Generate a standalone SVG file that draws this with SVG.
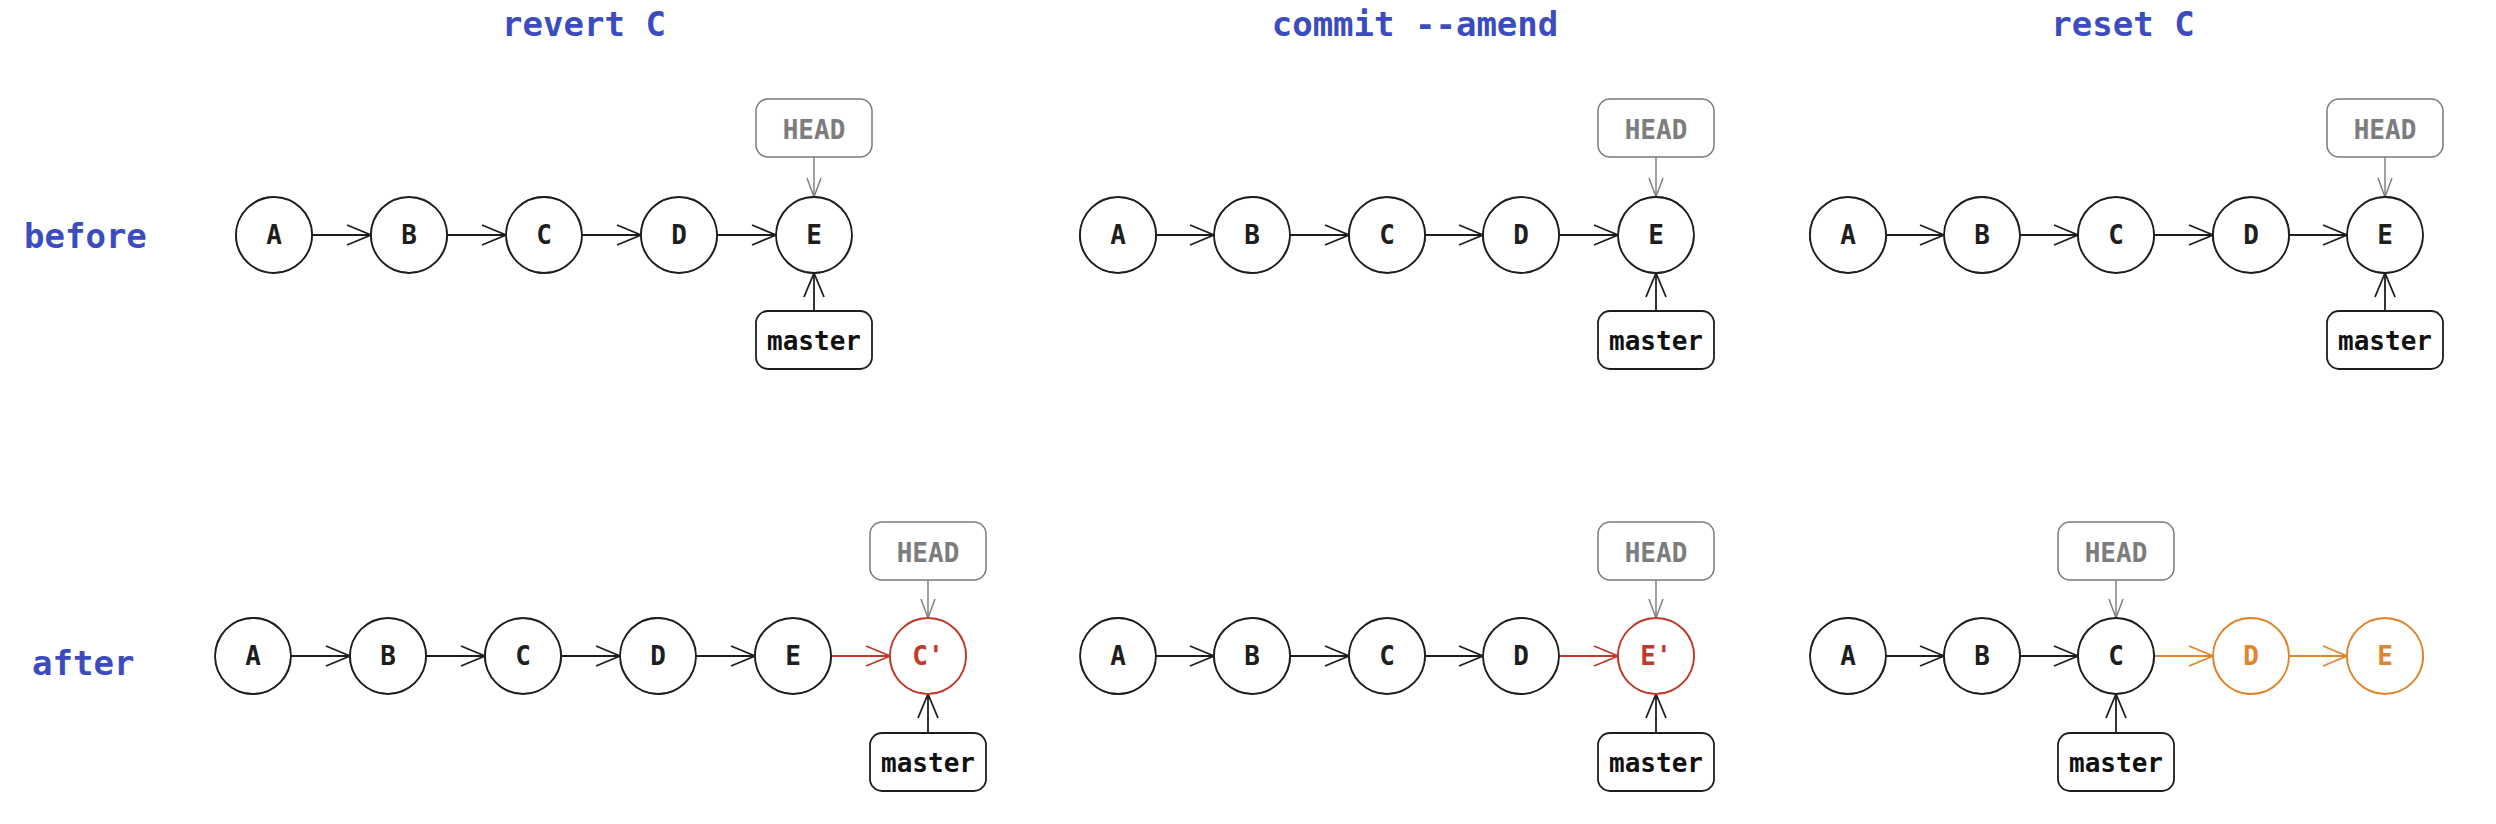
<svg xmlns="http://www.w3.org/2000/svg" width="2496" height="824" viewBox="0 0 2496 824">
<style>
text{font-family:"DejaVu Sans Mono","Liberation Mono",monospace}
.t{font-size:34px;font-weight:bold;fill:#3b4cc0}
.n circle,.n ellipse{fill:#fff;stroke:#1e1e1e;stroke-width:1.8}
.n ellipse{fill:none;stroke-width:1;opacity:.85}
.n text{font-size:26px;font-weight:bold;text-anchor:middle;fill:#1e1e1e}
.n.r circle,.n.r ellipse{stroke:#c0392b}
.n.r text{fill:#c0392b}
.n.o circle,.n.o ellipse{stroke:#e0852b}
.n.o text{fill:#e0852b}
.h rect{fill:#fff;stroke:#7a7a7a;stroke-width:1.5}
.h text{font-size:26px;font-weight:bold;text-anchor:middle;fill:#7d7d7d}
.m rect{fill:#fff;stroke:#1e1e1e;stroke-width:1.8}
.m text{font-size:26px;font-weight:bold;text-anchor:middle;fill:#111}
.e line{stroke:#1e1e1e;stroke-width:1.8;fill:none;marker-end:url(#ak)}
.e line.g{stroke:#7a7a7a;stroke-width:1.4;marker-end:url(#ag)}
.e line.r{stroke:#c0392b;marker-end:url(#ar)}
.e line.o{stroke:#e0852b;marker-end:url(#ao)}
</style>
<defs>
<marker id="ak" markerUnits="userSpaceOnUse" markerWidth="28" markerHeight="24" refX="25" refY="12" orient="auto"><path d="M1,2 L25,12 L1,22" fill="none" stroke="#1e1e1e" stroke-width="1.8"/></marker>
<marker id="ar" markerUnits="userSpaceOnUse" markerWidth="28" markerHeight="24" refX="25" refY="12" orient="auto"><path d="M1,2 L25,12 L1,22" fill="none" stroke="#c0392b" stroke-width="1.8"/></marker>
<marker id="ao" markerUnits="userSpaceOnUse" markerWidth="28" markerHeight="24" refX="25" refY="12" orient="auto"><path d="M1,2 L25,12 L1,22" fill="none" stroke="#e0852b" stroke-width="1.8"/></marker>
<marker id="ag" markerUnits="userSpaceOnUse" markerWidth="22" markerHeight="20" refX="20" refY="10" orient="auto"><path d="M1,3 L20,10 L1,17" fill="none" stroke="#7a7a7a" stroke-width="1.4"/></marker>
</defs>
<rect width="2496" height="824" fill="#fff"/>
<g id="titles">
<text class="t" x="584" y="36" text-anchor="middle">revert C</text>
<text class="t" x="1415" y="36" text-anchor="middle">commit --amend</text>
<text class="t" x="2123" y="36" text-anchor="middle">reset C</text>
<text class="t" x="24" y="248">before</text>
<text class="t" x="32" y="675">after</text>
</g>
<g id="connectors" class="e">
<line x1="312" y1="235" x2="371" y2="235"/>
<line x1="447" y1="235" x2="506" y2="235"/>
<line x1="582" y1="235" x2="641" y2="235"/>
<line x1="717" y1="235" x2="776" y2="235"/>
<line class="g" x1="814" y1="157" x2="814" y2="197"/>
<line x1="814" y1="311" x2="814" y2="273"/>
<line x1="291" y1="656" x2="350" y2="656"/>
<line x1="426" y1="656" x2="485" y2="656"/>
<line x1="561" y1="656" x2="620" y2="656"/>
<line x1="696" y1="656" x2="755" y2="656"/>
<line class="r" x1="831" y1="656" x2="890" y2="656"/>
<line class="g" x1="928" y1="580" x2="928" y2="618"/>
<line x1="928" y1="733" x2="928" y2="694"/>
<line x1="1156" y1="235" x2="1214" y2="235"/>
<line x1="1290" y1="235" x2="1349" y2="235"/>
<line x1="1425" y1="235" x2="1483" y2="235"/>
<line x1="1559" y1="235" x2="1618" y2="235"/>
<line class="g" x1="1656" y1="157" x2="1656" y2="197"/>
<line x1="1656" y1="311" x2="1656" y2="273"/>
<line x1="1156" y1="656" x2="1214" y2="656"/>
<line x1="1290" y1="656" x2="1349" y2="656"/>
<line x1="1425" y1="656" x2="1483" y2="656"/>
<line class="r" x1="1559" y1="656" x2="1618" y2="656"/>
<line class="g" x1="1656" y1="580" x2="1656" y2="618"/>
<line x1="1656" y1="733" x2="1656" y2="694"/>
<line x1="1886" y1="235" x2="1944" y2="235"/>
<line x1="2020" y1="235" x2="2078" y2="235"/>
<line x1="2154" y1="235" x2="2213" y2="235"/>
<line x1="2289" y1="235" x2="2347" y2="235"/>
<line class="g" x1="2385" y1="157" x2="2385" y2="197"/>
<line x1="2385" y1="311" x2="2385" y2="273"/>
<line x1="1886" y1="656" x2="1944" y2="656"/>
<line x1="2020" y1="656" x2="2078" y2="656"/>
<line class="o" x1="2154" y1="656" x2="2213" y2="656"/>
<line class="o" x1="2289" y1="656" x2="2347" y2="656"/>
<line class="g" x1="2116" y1="580" x2="2116" y2="618"/>
<line x1="2116" y1="733" x2="2116" y2="694"/>
</g>
<!-- panel 1 before -->
<g id="p1b-A" class="n"><circle cx="274" cy="235" r="38"/><ellipse cx="274" cy="235" rx="38.6" ry="37.4" transform="rotate(-25 274 235)"/><text x="274" y="244">A</text></g>
<g id="p1b-B" class="n"><circle cx="409" cy="235" r="38"/><ellipse cx="409" cy="235" rx="38.6" ry="37.4" transform="rotate(20 409 235)"/><text x="409" y="244">B</text></g>
<g id="p1b-C" class="n"><circle cx="544" cy="235" r="38"/><ellipse cx="544" cy="235" rx="37.4" ry="38.6" transform="rotate(-15 544 235)"/><text x="544" y="244">C</text></g>
<g id="p1b-D" class="n"><circle cx="679" cy="235" r="38"/><ellipse cx="679" cy="235" rx="38.6" ry="37.4" transform="rotate(30 679 235)"/><text x="679" y="244">D</text></g>
<g id="p1b-E" class="n"><circle cx="814" cy="235" r="38"/><ellipse cx="814" cy="235" rx="37.4" ry="38.6" transform="rotate(25 814 235)"/><text x="814" y="244">E</text></g>
<g id="p1b-HEAD" class="h"><rect x="756" y="99" width="116" height="58" rx="12"/><text x="814" y="139">HEAD</text></g>
<g id="p1b-master" class="m"><rect x="756" y="311" width="116" height="58" rx="12"/><text x="814" y="350">master</text></g>
<!-- panel 1 after -->
<g id="p1a-A" class="n"><circle cx="253" cy="656" r="38"/><ellipse cx="253" cy="656" rx="37.4" ry="38.6" transform="rotate(20 253 656)"/><text x="253" y="665">A</text></g>
<g id="p1a-B" class="n"><circle cx="388" cy="656" r="38"/><ellipse cx="388" cy="656" rx="38.6" ry="37.4" transform="rotate(-20 388 656)"/><text x="388" y="665">B</text></g>
<g id="p1a-C" class="n"><circle cx="523" cy="656" r="38"/><ellipse cx="523" cy="656" rx="38.6" ry="37.4" transform="rotate(15 523 656)"/><text x="523" y="665">C</text></g>
<g id="p1a-D" class="n"><circle cx="658" cy="656" r="38"/><ellipse cx="658" cy="656" rx="37.4" ry="38.6" transform="rotate(-30 658 656)"/><text x="658" y="665">D</text></g>
<g id="p1a-E" class="n"><circle cx="793" cy="656" r="38"/><ellipse cx="793" cy="656" rx="38.6" ry="37.4" transform="rotate(25 793 656)"/><text x="793" y="665">E</text></g>
<g id="p1a-C2" class="n r"><circle cx="928" cy="656" r="38"/><ellipse cx="928" cy="656" rx="38.6" ry="37.4" transform="rotate(-20 928 656)"/><text x="928" y="665">C'</text></g>
<g id="p1a-HEAD" class="h"><rect x="870" y="522" width="116" height="58" rx="12"/><text x="928" y="562">HEAD</text></g>
<g id="p1a-master" class="m"><rect x="870" y="733" width="116" height="58" rx="12"/><text x="928" y="772">master</text></g>
<!-- panel 2 before -->
<g id="p2b-A" class="n"><circle cx="1118" cy="235" r="38"/><ellipse cx="1118" cy="235" rx="38.6" ry="37.4" transform="rotate(-20 1118 235)"/><text x="1118" y="244">A</text></g>
<g id="p2b-B" class="n"><circle cx="1252" cy="235" r="38"/><ellipse cx="1252" cy="235" rx="37.4" ry="38.6" transform="rotate(25 1252 235)"/><text x="1252" y="244">B</text></g>
<g id="p2b-C" class="n"><circle cx="1387" cy="235" r="38"/><ellipse cx="1387" cy="235" rx="38.6" ry="37.4" transform="rotate(15 1387 235)"/><text x="1387" y="244">C</text></g>
<g id="p2b-D" class="n"><circle cx="1521" cy="235" r="38"/><ellipse cx="1521" cy="235" rx="38.6" ry="37.4" transform="rotate(-30 1521 235)"/><text x="1521" y="244">D</text></g>
<g id="p2b-E" class="n"><circle cx="1656" cy="235" r="38"/><ellipse cx="1656" cy="235" rx="37.4" ry="38.6" transform="rotate(20 1656 235)"/><text x="1656" y="244">E</text></g>
<g id="p2b-HEAD" class="h"><rect x="1598" y="99" width="116" height="58" rx="12"/><text x="1656" y="139">HEAD</text></g>
<g id="p2b-master" class="m"><rect x="1598" y="311" width="116" height="58" rx="12"/><text x="1656" y="350">master</text></g>
<!-- panel 2 after -->
<g id="p2a-A" class="n"><circle cx="1118" cy="656" r="38"/><ellipse cx="1118" cy="656" rx="37.4" ry="38.6" transform="rotate(-15 1118 656)"/><text x="1118" y="665">A</text></g>
<g id="p2a-B" class="n"><circle cx="1252" cy="656" r="38"/><ellipse cx="1252" cy="656" rx="38.6" ry="37.4" transform="rotate(20 1252 656)"/><text x="1252" y="665">B</text></g>
<g id="p2a-C" class="n"><circle cx="1387" cy="656" r="38"/><ellipse cx="1387" cy="656" rx="38.6" ry="37.4" transform="rotate(-25 1387 656)"/><text x="1387" y="665">C</text></g>
<g id="p2a-D" class="n"><circle cx="1521" cy="656" r="38"/><ellipse cx="1521" cy="656" rx="37.4" ry="38.6" transform="rotate(30 1521 656)"/><text x="1521" y="665">D</text></g>
<g id="p2a-E2" class="n r"><circle cx="1656" cy="656" r="38"/><ellipse cx="1656" cy="656" rx="38.6" ry="37.4" transform="rotate(-20 1656 656)"/><text x="1656" y="665">E'</text></g>
<g id="p2a-HEAD" class="h"><rect x="1598" y="522" width="116" height="58" rx="12"/><text x="1656" y="562">HEAD</text></g>
<g id="p2a-master" class="m"><rect x="1598" y="733" width="116" height="58" rx="12"/><text x="1656" y="772">master</text></g>
<!-- panel 3 before -->
<g id="p3b-A" class="n"><circle cx="1848" cy="235" r="38"/><ellipse cx="1848" cy="235" rx="38.6" ry="37.4" transform="rotate(20 1848 235)"/><text x="1848" y="244">A</text></g>
<g id="p3b-B" class="n"><circle cx="1982" cy="235" r="38"/><ellipse cx="1982" cy="235" rx="37.4" ry="38.6" transform="rotate(-20 1982 235)"/><text x="1982" y="244">B</text></g>
<g id="p3b-C" class="n"><circle cx="2116" cy="235" r="38"/><ellipse cx="2116" cy="235" rx="38.6" ry="37.4" transform="rotate(25 2116 235)"/><text x="2116" y="244">C</text></g>
<g id="p3b-D" class="n"><circle cx="2251" cy="235" r="38"/><ellipse cx="2251" cy="235" rx="38.6" ry="37.4" transform="rotate(-15 2251 235)"/><text x="2251" y="244">D</text></g>
<g id="p3b-E" class="n"><circle cx="2385" cy="235" r="38"/><ellipse cx="2385" cy="235" rx="37.4" ry="38.6" transform="rotate(30 2385 235)"/><text x="2385" y="244">E</text></g>
<g id="p3b-HEAD" class="h"><rect x="2327" y="99" width="116" height="58" rx="12"/><text x="2385" y="139">HEAD</text></g>
<g id="p3b-master" class="m"><rect x="2327" y="311" width="116" height="58" rx="12"/><text x="2385" y="350">master</text></g>
<!-- panel 3 after -->
<g id="p3a-A" class="n"><circle cx="1848" cy="656" r="38"/><ellipse cx="1848" cy="656" rx="37.4" ry="38.6" transform="rotate(25 1848 656)"/><text x="1848" y="665">A</text></g>
<g id="p3a-B" class="n"><circle cx="1982" cy="656" r="38"/><ellipse cx="1982" cy="656" rx="38.6" ry="37.4" transform="rotate(-20 1982 656)"/><text x="1982" y="665">B</text></g>
<g id="p3a-C" class="n"><circle cx="2116" cy="656" r="38"/><ellipse cx="2116" cy="656" rx="38.6" ry="37.4" transform="rotate(20 2116 656)"/><text x="2116" y="665">C</text></g>
<g id="p3a-D" class="n o"><circle cx="2251" cy="656" r="38"/><ellipse cx="2251" cy="656" rx="37.4" ry="38.6" transform="rotate(-25 2251 656)"/><text x="2251" y="665">D</text></g>
<g id="p3a-E" class="n o"><circle cx="2385" cy="656" r="38"/><ellipse cx="2385" cy="656" rx="38.6" ry="37.4" transform="rotate(15 2385 656)"/><text x="2385" y="665">E</text></g>
<g id="p3a-HEAD" class="h"><rect x="2058" y="522" width="116" height="58" rx="12"/><text x="2116" y="562">HEAD</text></g>
<g id="p3a-master" class="m"><rect x="2058" y="733" width="116" height="58" rx="12"/><text x="2116" y="772">master</text></g>
</svg>
